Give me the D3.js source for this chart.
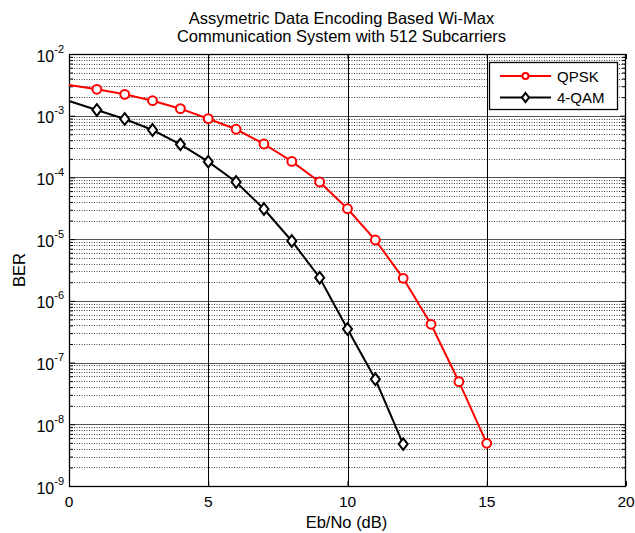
<!DOCTYPE html>
<html>
<head>
<meta charset="utf-8">
<script src="https://cdn.jsdelivr.net/npm/d3@7"></script>
<style>
  body { margin: 0; background: #fff; }
  text { font-family: Arial, "Liberation Sans", sans-serif; fill: #000; }
</style>
</head>
<body>
<div class="graphContainer"></div>
<script>
// data
var ebnoQpsk = [0, 1, 2, 3, 4, 5, 6, 7, 8, 9, 10, 11, 12, 13, 14, 15];
var berQpsk = [3.15e-3, 2.68e-3, 2.22e-3, 1.75e-3, 1.3e-3, 8.95e-4, 6.03e-4, 3.48e-4,
  1.82e-4, 8.43e-5, 3.11e-5, 9.68e-6, 2.32e-6, 4.17e-7, 4.9e-8, 4.92e-9];
var ebnoQam = [0, 1, 2, 3, 4, 5, 6, 7, 8, 9, 10, 11, 12];
var berQam = [1.73e-3, 1.24e-3, 8.85e-4, 5.87e-4, 3.44e-4, 1.8e-4, 8.43e-5, 3.08e-5,
  9.33e-6, 2.37e-6, 3.5e-7, 5.36e-8, 4.78e-9];
var xTicks = [0, 5, 10, 15, 20];
var yExponents = [-9, -8, -7, -6, -5, -4, -3, -2];
var titleLines = ["Assymetric Data Encoding Based Wi-Max", "Communication System with 512 Subcarriers"];
var seriesNames = ["QPSK", "4-QAM"];

var width = 635;
var height = 533;
var pLeft = 69, pRight = 626, pTop = 54, pBottom = 486;

var svg = d3
  .select(".graphContainer")
  .append("svg")
  .attr("width", width)
  .attr("height", height);

var xScale = d3.scaleLinear().domain([0, 20]).range([pLeft, pRight]);
var yScale = d3.scaleLog().domain([1e-9, 1e-2]).range([pBottom, pTop]);

var majors = yExponents.map((e) => Math.pow(10, e));
var minors = [];
yExponents.slice(0, -1).forEach(function (e) {
  for (var k = 2; k <= 9; k++) minors.push(k * Math.pow(10, e));
});

// grid
var grid = svg.append("g");
grid
  .selectAll(".minor")
  .data(minors)
  .enter()
  .append("line")
  .attr("x1", pLeft)
  .attr("x2", pRight)
  .attr("y1", (d) => Math.round(yScale(d)) + 0.5)
  .attr("y2", (d) => Math.round(yScale(d)) + 0.5)
  .attr("stroke", "#444")
  .attr("stroke-width", 1)
  .attr("stroke-dasharray", "1,1.5");
grid
  .selectAll(".major")
  .data(majors.slice(1, -1))
  .enter()
  .append("line")
  .attr("x1", pLeft)
  .attr("x2", pRight)
  .attr("y1", (d) => Math.round(yScale(d)) + 0.5)
  .attr("y2", (d) => Math.round(yScale(d)) + 0.5)
  .attr("stroke", "#555")
  .attr("stroke-width", 1);
grid
  .selectAll(".vline")
  .data(xTicks.slice(1, -1))
  .enter()
  .append("line")
  .attr("x1", (d) => Math.round(xScale(d)) + 0.5)
  .attr("x2", (d) => Math.round(xScale(d)) + 0.5)
  .attr("y1", pTop)
  .attr("y2", pBottom)
  .attr("stroke", "#000")
  .attr("stroke-width", 1);

// tick marks (inside)
var xAxisB = d3.axisBottom(xScale).tickValues(xTicks).tickSize(-5).tickFormat("");
svg.append("g").attr("transform", "translate(0," + pBottom + ")").call(xAxisB);
var xAxisT = d3.axisTop(xScale).tickValues(xTicks).tickSize(-5).tickFormat("");
svg.append("g").attr("transform", "translate(0," + pTop + ")").call(xAxisT);
[
  [d3.axisLeft, pLeft],
  [d3.axisRight, pRight],
].forEach(function (a) {
  svg.append("g").attr("transform", "translate(" + a[1] + ",0)")
    .call(a[0](yScale).tickValues(majors).tickSize(-6).tickFormat(""));
  svg.append("g").attr("transform", "translate(" + a[1] + ",0)")
    .call(a[0](yScale).tickValues(minors).tickSize(-4).tickFormat(""));
});
svg.selectAll(".domain").remove();
svg.selectAll(".tick line").attr("stroke", "#000");

// box
svg.append("rect")
  .attr("x", pLeft + 0.5)
  .attr("y", pTop + 0.5)
  .attr("width", pRight - pLeft - 1)
  .attr("height", pBottom - pTop)
  .attr("fill", "none")
  .attr("stroke", "#000")
  .attr("stroke-width", 1.3);

// tick labels
svg.selectAll(".xlab")
  .data(xTicks)
  .enter()
  .append("text")
  .attr("x", (d) => xScale(d))
  .attr("y", pBottom + 21)
  .attr("text-anchor", "middle")
  .style("font-size", "15.5px")
  .text((d) => d);

var yLab = svg.selectAll(".ylab")
  .data(yExponents)
  .enter()
  .append("text")
  .attr("x", 64)
  .attr("y", (d) => yScale(Math.pow(10, d)) + 7.5)
  .attr("text-anchor", "end")
  .style("font-size", "16px");
yLab.append("tspan").text("10");
yLab.append("tspan").attr("dy", -9).style("font-size", "11px").text((d) => d);

// titles
svg.selectAll(".title")
  .data(titleLines)
  .enter()
  .append("text")
  .attr("x", (pLeft + pRight) / 2 - 6)
  .attr("y", (d, i) => 23.5 + i * 18.5)
  .attr("text-anchor", "middle")
  .style("font-size", "16.5px")
  .text((d) => d);

svg.append("text")
  .attr("x", (pLeft + pRight) / 2 - 1)
  .attr("y", 528)
  .attr("text-anchor", "middle")
  .style("font-size", "16.5px")
  .text("Eb/No (dB)");

svg.append("text")
  .attr("transform", "translate(25," + (pTop + pBottom) / 2 + ") rotate(-90)")
  .attr("text-anchor", "middle")
  .style("font-size", "16.5px")
  .text("BER");

// series
var line = d3.line().x((d) => xScale(d[0])).y((d) => yScale(d[1]));
var qpskData = ebnoQpsk.map((x, i) => [x, berQpsk[i]]);
var qamData = ebnoQam.map((x, i) => [x, berQam[i]]);

var plot = svg.append("g");
plot.append("path").datum(qpskData).attr("d", line)
  .attr("fill", "none").attr("stroke", "#ff0000").attr("stroke-width", 2);
plot.selectAll(".qp").data(qpskData.slice(1)).enter().append("circle")
  .attr("cx", (d) => xScale(d[0]))
  .attr("cy", (d) => yScale(d[1]))
  .attr("r", 4.4)
  .attr("fill", "#fff")
  .attr("stroke", "#ff0000")
  .attr("stroke-width", 2);

plot.append("path").datum(qamData).attr("d", line)
  .attr("fill", "none").attr("stroke", "#000").attr("stroke-width", 2);
var diamond = "M0,-5.8L4.5,0L0,5.8L-4.5,0Z";
plot.selectAll(".qm").data(qamData.slice(1)).enter().append("path")
  .attr("d", diamond)
  .attr("transform", (d) => "translate(" + xScale(d[0]) + "," + yScale(d[1]) + ")")
  .attr("fill", "#fff")
  .attr("stroke", "#000")
  .attr("stroke-width", 2);

// legend
var legend = svg.append("g").attr("id", "legend");
legend.append("rect")
  .attr("x", 489.5).attr("y", 62.5)
  .attr("width", 128).attr("height", 47)
  .attr("fill", "#fff").attr("stroke", "#000").attr("stroke-width", 1.3);
var legColors = ["#ff0000", "#000"];
seriesNames.forEach(function (name, i) {
  var ly = 76 + i * 21.5;
  legend.append("line")
    .attr("x1", 500).attr("x2", 551).attr("y1", ly).attr("y2", ly)
    .attr("stroke", legColors[i]).attr("stroke-width", 2);
  if (i === 0) {
    legend.append("circle").attr("cx", 525.5).attr("cy", ly).attr("r", 3)
      .attr("fill", "#fff").attr("stroke", legColors[i]).attr("stroke-width", 2);
  } else {
    legend.append("path").attr("d", "M0,-4.5L3.5,0L0,4.5L-3.5,0Z")
      .attr("transform", "translate(525.5," + ly + ")")
      .attr("fill", "#fff").attr("stroke", legColors[i]).attr("stroke-width", 2);
  }
  legend.append("text")
    .attr("x", 557).attr("y", ly + 5.5)
    .style("font-size", "15px")
    .text(name);
});
</script>
</body>
</html>
